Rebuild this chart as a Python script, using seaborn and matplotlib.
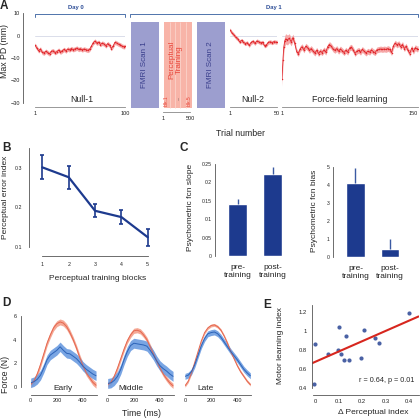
import numpy as np
import matplotlib
matplotlib.use('Agg')
import matplotlib.pyplot as plt
from matplotlib.patches import Rectangle
from matplotlib.ticker import MultipleLocator
import seaborn as sns

sns.set_style('white')
plt.rcParams['font.family'] = ['Liberation Sans', 'DejaVu Sans']

# ---------------- data ----------------
# A: max perpendicular deviation per trial (mm)
null1_trials = list(range(1, 100, 2)) + [100]
null1_pd = [-4.3, -5.5, -6.8, -6.0, -7.5, -7.8, -7.0, -7.6, -8.2, -7.0,
            -6.8, -7.6, -7.2, -6.5, -7.4, -6.8, -6.2, -6.9, -6.0, -6.4,
            -5.8, -6.3, -6.0, -5.6, -6.2, -5.9, -6.4, -6.0, -6.3, -6.6,
            -6.2, -4.8, -3.2, -2.5, -3.4, -3.0, -4.0, -3.4, -3.8, -4.6,
            -3.6, -4.3, -5.8, -4.6, -3.0, -3.4, -3.9, -4.2, -4.8, -5.0, -4.8]
null1_se = 1.0

null2_trials = list(range(1, 50, 2)) + [50]
null2_pd = [2.5, 1.2, 0.3, -0.8, -1.5, -2.8, -2.2, -3.0, -3.6, -3.2,
            -4.4, -3.1, -2.6, -3.5, -2.4, -2.8, -3.3, -3.0, -4.6, -4.2,
            -3.0, -2.8, -3.2, -2.7, -3.0, -2.9]
null2_se = 0.9

ff_trials = [1, 2, 3, 4, 5] + list(range(7, 150, 2)) + [150]
ff_pd = [-19.5, -11.0, -5.0, -2.5, -1.5,
         -2.0, -1.2, -2.8, -1.0, -3.5, -7.2, -8.0, -5.8, -5.0, -6.4,
         -4.8, -5.4, -6.6, -5.8, -6.9, -7.8, -6.6, -8.0, -7.0, -7.6,
         -6.4, -7.4, -5.0, -4.0, -4.8, -6.0, -6.6, -5.8, -7.0, -6.0,
         -6.8, -7.6, -6.6, -7.4, -5.6, -5.2, -6.4, -8.0, -7.0, -6.6,
         -7.4, -6.2, -7.0, -7.8, -7.0, -7.4, -6.4, -7.2, -7.6, -6.4,
         -6.2, -6.0, -6.2, -6.0, -6.2, -5.8, -6.2, -7.6, -4.6, -3.4,
         -4.2, -3.6, -5.0, -4.0, -5.8, -4.8, -6.6, -8.0, -5.6, -7.0,
         -5.4, -6.0, -5.8]
ff_se_early = [3.0, 2.8, 2.6, 2.4, 2.3, 2.2, 2.0, 1.8, 1.6]
ff_se = 1.3

# B: perceptual error index per block
blocks = [1, 2, 3, 4, 5]
err_index = [0.301, 0.276, 0.191, 0.175, 0.124]
err_index_se = [0.030, 0.029, 0.016, 0.018, 0.021]

# C: psychometric function parameters
conds = ['pre-\ntraining', 'post-\ntraining']
slope = [0.142, 0.222]
slope_se = [0.013, 0.021]
bias = [4.12, 0.46]
bias_se = [0.85, 0.52]

# D: force profiles (N)
time_ms = [0, 25, 50, 75, 100, 125, 150, 175, 200, 225, 250,
           275, 300, 325, 350, 375, 400, 425, 450, 475, 500]
stages = ['Early', 'Middle', 'Late']
force_ideal = [
    [0.2, 0.5, 1.1, 1.9, 2.8, 3.7, 4.4, 5.0, 5.35, 5.5, 5.4,
     5.1, 4.6, 4.0, 3.3, 2.5, 1.8, 1.2, 0.8, 0.4, 0.15],
    [0.2, 0.4, 0.9, 1.6, 2.4, 3.2, 3.9, 4.4, 4.75, 4.8, 4.7,
     4.4, 4.0, 3.4, 2.8, 2.2, 1.6, 1.1, 0.7, 0.35, 0.1],
    [0.1, 0.5, 1.2, 2.1, 3.0, 3.9, 4.6, 5.0, 5.2, 5.25, 5.1,
     4.8, 4.3, 3.7, 3.0, 2.4, 1.8, 1.3, 0.9, 0.5, 0.2],
]
force_actual = [
    [0.35, 0.45, 0.65, 1.0, 1.6, 2.3, 2.7, 2.9, 3.1, 3.4, 3.1,
     2.85, 2.8, 2.6, 2.4, 2.1, 1.75, 1.5, 1.3, 1.1, 0.95],
    [0.3, 0.35, 0.55, 0.9, 1.5, 2.3, 3.0, 3.5, 3.7, 3.65, 3.6,
     3.55, 3.45, 3.1, 2.7, 2.2, 1.8, 1.55, 1.35, 1.1, 0.9],
    [0.9, 1.0, 1.3, 1.9, 2.7, 3.5, 4.1, 4.5, 4.6, 4.65, 4.5,
     4.2, 3.8, 3.4, 3.0, 2.65, 2.3, 1.9, 1.5, 1.2, 0.95],
]
ideal_se = [0.25, 0.22, 0.12]
actual_se = [0.4, 0.42, 0.25]

# E: perceptual change vs motor learning
d_percept = [-0.004, 0.0, 0.054, 0.102, 0.099, 0.111, 0.121, 0.13,
             0.146, 0.194, 0.208, 0.253, 0.271, 0.40]
motor_learn = [0.44, 0.86, 0.758, 1.04, 0.797, 0.758, 0.69, 0.95,
               0.69, 0.72, 1.01, 0.926, 0.87, 1.19]

# ---------------- colours ----------------
NAVY = '#1d3a8e'
RED_A = '#e0262b'
BAND_A = '#f6a8a8'
RED_D = '#e5674f'
BAND_RED_D = '#f5a996'
BLUE_D = '#2c63b8'
BAND_BLUE_D = '#6b9be0'
FMRI = '#9c9ecf'
FMRI_TXT = '#3a3f8c'
PERC = '#f8b4a8'
PERC_TXT = '#e8463a'
DAY = '#4f73ab'
SPINE = '#555555'

W, H = 420, 418
fig = plt.figure(figsize=(W / 100, H / 100), dpi=100)
PX = 0.72  # points per pixel


def add_ax(x0, y0, x1, y1):
    # axes from pixel box (top-left origin)
    ax = fig.add_axes([x0 / W, 1 - y1 / H, (x1 - x0) / W, (y1 - y0) / H])
    ax.patch.set_alpha(0)
    return ax


def clean(ax, left=True, bottom=True, size=4):
    for s in ['top', 'right']:
        ax.spines[s].set_visible(False)
    ax.spines['left'].set_visible(left)
    ax.spines['bottom'].set_visible(bottom)
    for s in ['left', 'bottom']:
        ax.spines[s].set_linewidth(0.6)
        ax.spines[s].set_color(SPINE)
    ax.tick_params(direction='in', length=2, width=0.5, colors=SPINE,
                   labelcolor='#222222', labelsize=size, pad=2)
    ax.tick_params(which='minor', direction='in', length=1, width=0.4, colors=SPINE)
    if not left:
        ax.set_yticks([])
    if not bottom:
        ax.set_xticks([])


# overlay in pixel coordinates for labels and annotations
ov = fig.add_axes([0, 0, 1, 1])
ov.set_xlim(0, W)
ov.set_ylim(H, 0)
ov.axis('off')

# ---------------- panel A ----------------
ff_band = np.r_[ff_se_early, np.full(len(ff_trials) - len(ff_se_early), ff_se)]
segments = [
    ((35, 125), null1_trials, null1_pd, null1_se, 100),
    ((230, 277), null2_trials, null2_pd, null2_se, 50),
    ((282, 418), ff_trials, ff_pd, ff_band, 150),
]
for i, ((x0, x1), trials, vals, se, n) in enumerate(segments):
    ax = add_ax(x0, 13, x1, 103)
    vals = np.array(vals)
    ax.axhline(0, color='#d5d8e6', lw=0.6, zorder=0)
    ax.fill_between(trials, vals - se, vals + se, color=BAND_A, lw=0)
    sns.lineplot(x=trials, y=vals, ax=ax, color=RED_A, lw=0.6,
                 marker='o', markersize=1.1, markeredgewidth=0)
    ax.set_xlim(1, n)
    ax.set_ylim(-30, 10)
    clean(ax, left=(i == 0), size=4)
    ax.spines['bottom'].set_position(('outward', 4 * PX))
    ax.spines['bottom'].set_bounds(1, n)
    ax.spines['bottom'].set_color('#888888')
    ax.set_xticks([1, n])
    ax.tick_params(axis='x', length=2.2, pad=3, colors='#888888', labelcolor='#222222')
    if i == 2:
        ax.xaxis.get_major_ticks()[-1].label1.set_horizontalalignment('right')
    if i == 0:
        ax.spines['left'].set_position(('outward', 12 * PX))
        ax.spines['left'].set_bounds(-30, 10)
        ax.set_yticks([-30, -20, -10, 0, 10])
        ax.yaxis.set_minor_locator(MultipleLocator(2.5))

# perceptual training block axis
ax_pt = add_ax(163, 100, 190, 112)
ax_pt.set_xlim(1, 500)
clean(ax_pt, left=False, size=4)
ax_pt.spines['bottom'].set_color('#888888')
ax_pt.set_xticks([1, 500])
ax_pt.tick_params(axis='x', length=2.2, pad=3, colors='#888888', labelcolor='#222222')

# boxes
for bx, label in [(131, 'FMRI Scan 1'), (197, 'FMRI Scan 2')]:
    ov.add_patch(Rectangle((bx, 22), 28, 86, color=FMRI, lw=0))
    ov.text(bx + 14, 65, label, rotation=90, ha='center', va='center',
            fontsize=5.8, color=FMRI_TXT)
ov.add_patch(Rectangle((164, 22), 28, 86, color=PERC, lw=0))
ov.vlines([170, 175, 180, 186], 22, 108, color='#fbd2ca', lw=0.6)
ov.text(175.5, 60, 'Perceptual\nTraining', rotation=90, ha='center', va='center',
        fontsize=5.8, color=PERC_TXT, linespacing=1.1)
ov.text(166.5, 101, 'blk.1', rotation=90, ha='center', va='center', fontsize=3.6, color=PERC_TXT)
ov.text(189, 101, 'blk.5', rotation=90, ha='center', va='center', fontsize=3.6, color=PERC_TXT)
ov.text(177.5, 98, '...', rotation=90, ha='center', va='center', fontsize=4, color='#555555')

# day brackets
ov.plot([35, 35, 125, 125], [17, 14, 14, 17], color=DAY, lw=0.7)
ov.plot([130, 130, 418, 418], [17, 14, 14, 17], color=DAY, lw=0.7)
ov.text(76, 7, 'Day 0', ha='center', va='center', fontsize=4.2, fontweight='bold', color='#2b4c96')
ov.text(274, 7, 'Day 1', ha='center', va='center', fontsize=4.2, fontweight='bold', color='#2b4c96')

ov.text(82, 99, 'Null-1', ha='center', va='center', fontsize=6.3)
ov.text(253, 99, 'Null-2', ha='center', va='center', fontsize=6.3)
ov.text(350, 99, 'Force-field learning', ha='center', va='center', fontsize=6.3)
ov.text(5, 51, 'Max PD (mm)', rotation=90, ha='center', va='center', fontsize=6.3)
ov.text(240, 133, 'Trial number', ha='center', va='center', fontsize=6.3)

# ---------------- panel B ----------------
ax_b = add_ax(29.3, 147, 152, 256)
sns.lineplot(x=blocks, y=err_index, ax=ax_b, color=NAVY, lw=1.6)
ax_b.errorbar(blocks, err_index, yerr=err_index_se, fmt='none', ecolor=NAVY,
              elinewidth=1.2, capsize=1.6, capthick=1.2)
ax_b.set_xlim(0.507, 5.16)
ax_b.set_ylim(0.0765, 0.3525)
clean(ax_b, size=3.8)
ax_b.spines['left'].set_bounds(0.1, 0.35)
ax_b.spines['bottom'].set_bounds(1, 5)
ax_b.set_xticks(blocks)
ax_b.set_yticks([0.1, 0.2, 0.3])
ax_b.yaxis.set_minor_locator(MultipleLocator(0.025))
ax_b.tick_params(axis='y', pad=5)
ax_b.tick_params(axis='x', pad=4)
ov.text(6, 197, 'Perceptual error index', rotation=90, ha='center', va='center', fontsize=6)
ov.text(98, 278, 'Perceptual training blocks', ha='center', va='center', fontsize=6)

# ---------------- panel C ----------------
c_specs = [
    ((215, 160, 290, 256), slope, slope_se, (0, 0.261), (-0.643, 1.5),
     [0, 0.05, 0.1, 0.15, 0.2, 0.25], ['0', '0.05', '0.1', '0.15', '0.2', '0.25']),
    ((333, 163, 410, 257), bias, bias_se, (0, 5.22), (-0.652, 1.58),
     [0, 1, 2, 3, 4, 5], ['0', '1', '2', '3', '4', '5']),
]
for box, vals, se, ylim, xlim, yt, ytl in c_specs:
    ax = add_ax(*box)
    sns.barplot(x=conds, y=vals, ax=ax, color=NAVY, width=0.55, saturation=1,
                errorbar=None)
    ax.errorbar([0, 1], vals, yerr=[[0, 0], se], fmt='none', ecolor='#3b5aa3',
                elinewidth=1.0, capsize=0)
    ax.set_xlim(*xlim)
    ax.set_ylim(*ylim)
    clean(ax, size=3.7)
    ax.spines['bottom'].set_visible(False)
    ax.spines['left'].set_bounds(ylim[0], yt[-1])
    ax.set_yticks(yt)
    ax.set_yticklabels(ytl)
    ax.set_xticks([0, 1])
    ax.set_xticklabels(conds, fontsize=6, linespacing=1.1)
    ax.tick_params(axis='x', length=0, pad=6)
    ax.tick_params(axis='y', pad=2.5)
ov.text(190, 207, 'Psychometric fcn slope', rotation=90, ha='center', va='center', fontsize=6)
ov.text(315, 211, 'Psychometric fcn bias', rotation=90, ha='center', va='center', fontsize=6)

# ---------------- panel D ----------------
d_boxes = [(30.7, 96.7), (107.7, 173.7), (185, 251)]
for i, (x0, x1) in enumerate(d_boxes):
    ax = add_ax(x0, 312, x1, 395)
    ideal = np.array(force_ideal[i])
    actual = np.array(force_actual[i])
    ax.fill_between(time_ms, ideal - ideal_se[i], ideal + ideal_se[i], color=BAND_RED_D, lw=0)
    ax.fill_between(time_ms, actual - actual_se[i], actual + actual_se[i],
                    color=BAND_BLUE_D, lw=0, alpha=0.9)
    sns.lineplot(x=time_ms, y=ideal, ax=ax, color=RED_D, lw=0.7)
    sns.lineplot(x=time_ms, y=actual, ax=ax, color=BLUE_D, lw=0.7)
    ax.set_xlim(0, 505)
    ax.set_ylim(-0.676, 6.34)
    clean(ax, left=(i == 0), size=4)
    ax.set_xticks([0, 200, 400])
    ax.tick_params(axis='x', pad=2)
    if i == 0:
        ax.spines['left'].set_position(('outward', 10 * PX))
        ax.spines['left'].set_bounds(0, 6)
        ax.set_yticks([0, 2, 4, 6])
        ax.yaxis.set_minor_locator(MultipleLocator(0.5))
        ax.tick_params(axis='y', pad=3)
for (x, name) in zip([63, 131, 206], stages):
    ov.text(x, 388, name, ha='center', va='center', fontsize=6)
ov.text(6, 374, 'Force (N)', rotation=90, ha='center', va='center', fontsize=6.3)
ov.text(142, 413, 'Time (ms)', ha='center', va='center', fontsize=6.3)

# ---------------- panel E ----------------
ax_e = add_ax(311.7, 303, 418.5, 395)
ax_e.set_xlim(-0.014, 0.439)
ax_e.set_ylim(0.327, 1.292)
sns.regplot(x=d_percept, y=motor_learn, ax=ax_e, ci=None, truncate=False,
            scatter_kws=dict(s=9, color=NAVY, linewidths=0),
            line_kws=dict(color='#d7261e', lw=1.5))
ax_e.set_xlim(-0.014, 0.439)
ax_e.set_ylim(0.327, 1.292)
clean(ax_e, size=4.2)
ax_e.spines['left'].set_bounds(0.4, 1.27)
ax_e.spines['bottom'].set_bounds(-0.007, 0.439)
ax_e.set_xticks([0, 0.1, 0.2, 0.3, 0.4])
ax_e.set_xticklabels(['0', '0.1', '0.2', '0.3', '0.4'])
ax_e.set_yticks([0.4, 0.6, 0.8, 1.0, 1.2])
ax_e.set_yticklabels(['0.4', '0.6', '0.8', '1', '1.2'])
ax_e.yaxis.set_minor_locator(MultipleLocator(0.05))
ax_e.tick_params(axis='y', pad=3.5)
ax_e.tick_params(axis='x', pad=3)
ov.text(387, 380, 'r = 0.64, p = 0.01', ha='center', va='center', fontsize=5.2)
ov.text(280, 346, 'Motor learning index', rotation=90, ha='center', va='center', fontsize=6)
ov.text(373, 413, '\u0394 Perceptual index', ha='center', va='center', fontsize=6)

# panel letters
for (x, y, letter) in [(0, 0, 'A'), (2, 142, 'B'), (180, 142, 'C'), (2, 297, 'D'), (263, 299, 'E')]:
    ov.text(x, y, letter, ha='left', va='top', fontsize=8.5, fontweight='bold')

fig.savefig('out.png', dpi=100)
